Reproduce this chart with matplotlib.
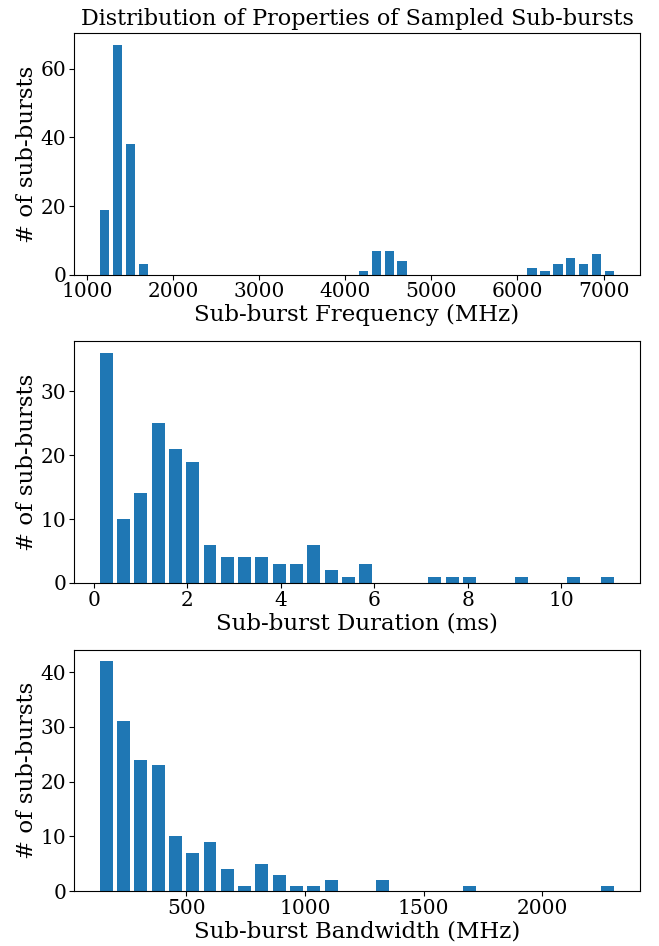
import numpy as np
import matplotlib
matplotlib.use("Agg")
import matplotlib.pyplot as plt

plt.rcParams["font.family"] = "DejaVu Serif"

# histogram counts (167 sub-bursts in each panel)
freq_counts = [19, 67, 38, 3, 0, 0, 0, 0, 0, 0,
               0, 0, 0, 0, 0, 0, 0, 0, 0, 0,
               1, 7, 7, 4, 0, 0, 0, 0, 0, 0,
               0, 0, 0, 2, 1, 3, 5, 3, 6, 1]
freq_range = (1131, 7143)   # MHz

dur_counts = [36, 10, 14, 25, 21, 19, 6, 4, 4, 4,
              3, 3, 6, 2, 1, 3, 0, 0, 0, 1,
              1, 1, 0, 0, 1, 0, 0, 1, 0, 1]
dur_range = (0.08, 11.18)   # ms

bw_counts = [42, 31, 24, 23, 10, 7, 9, 4, 1, 5,
             3, 1, 1, 2, 0, 0, 2, 0, 0, 0,
             0, 1, 0, 0, 0, 0, 0, 0, 0, 1]
bw_range = (126, 2313)      # MHz

panels = [
    (freq_counts, freq_range, "Sub-burst Frequency (MHz)"),
    (dur_counts, dur_range, "Sub-burst Duration (ms)"),
    (bw_counts, bw_range, "Sub-burst Bandwidth (MHz)"),
]

fig, axes = plt.subplots(3, 1, figsize=(6.59, 9.46), dpi=100)
fig.subplots_adjust(left=0.1123, right=0.9712, top=0.9648, bottom=0.0581,
                    hspace=0.276)

for ax, (counts, (lo, hi), xlabel) in zip(axes, panels):
    edges = np.linspace(lo, hi, len(counts) + 1)
    centers = 0.5 * (edges[:-1] + edges[1:])
    ax.hist(centers, bins=edges, weights=counts, rwidth=0.75, color="#1f77b4")
    ax.set_xlabel(xlabel, fontsize=16.5, labelpad=2)
    ax.set_ylabel("# of sub-bursts", fontsize=16.5, labelpad=2)
    ax.tick_params(labelsize=14.5, pad=2)

axes[0].set_title("Distribution of Properties of Sampled Sub-bursts", fontsize=16)

fig.savefig("out.png", dpi=100)
